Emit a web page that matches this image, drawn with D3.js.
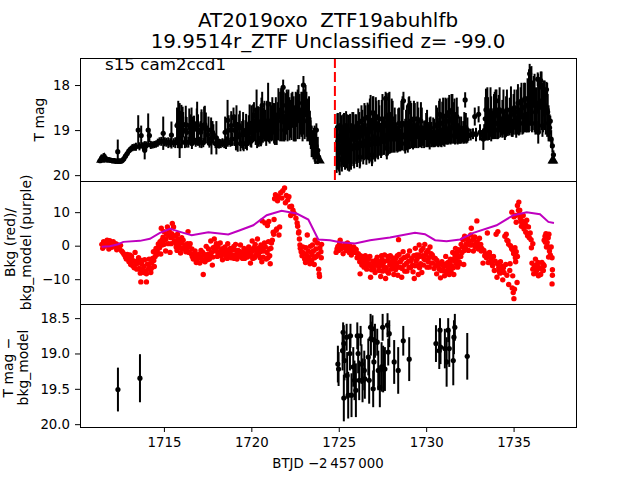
<!DOCTYPE html>
<html>
<head>
<meta charset="utf-8">
<script src="https://cdn.jsdelivr.net/npm/d3@7"></script>
<style>
  html, body { margin: 0; padding: 0; background: #fff; }
  svg { display: block; }
  text { font-family: "DejaVu Sans", sans-serif; fill: #000; }
  .tick text { font-size: 13.3px; }
  .axis path, .axis line { stroke: #000; stroke-width: 1; }
</style>
</head>
<body>
<div class="container"></div>
<script>
//Text
const titleLines = ["AT2019oxo  ZTF19abuhlfb", "19.9514r_ZTF Unclassified z= -99.0"];
const sectorLabel = "s15 cam2ccd1";
const xLabel = "BTJD \u22122\u2009457\u2009000";

//Ticks
const xTicks = [1715, 1720, 1725, 1730, 1735];
const magTicks = [18, 19, 20];
const bkgTicks = [10, 0, -10];
const diffTicks = [18.5, 19, 19.5, 20];

//Time of the dashed red line
const markerTime = [1724.78];

//Top panel: [time, mag, err]
const lightCurve = [
  [1711.35,19.68,.05],[1711.45,19.62,.08],[1711.55,19.6,.09],[1711.65,19.62,.08],[1711.75,19.66,.06],[1711.85,19.66,.06],
  [1711.95,19.67,.06],[1712.05,19.68,.06],[1712.15,19.68,.06],[1712.25,19.69,.06],[1712.36,19.48,.27],[1712.4,19.69,.06],
  [1712.5,19.69,.06],[1712.6,19.68,.06],[1712.7,19.64,.07],[1712.8,19.58,.07],[1712.9,19.52,.07],[1713,19.46,.07],
  [1713.1,19.42,.07],[1713.2,19.39,.08],[1713.3,19.38,.08],[1713.4,19.37,.09],[1713.53,19,.33],[1713.6,19.36,.09],
  [1713.7,19.12,.22],[1713.8,19.36,.09],[1713.9,19.35,.1],[1714,19.34,.09],[1714.1,19,.37],[1714.17,19.12,.15],
  [1714.25,19.33,.09],[1714.35,19.33,.08],[1714.45,19.32,.08],[1714.55,19.31,.08],[1714.65,19.28,.09],[1714.75,19.25,.09],
  [1714.85,19.25,.1],[1714.96,19.07,.37],[1715.05,19.26,.1],[1715.15,19.27,.1],[1715.25,19.28,.12],[1715.36,19.28,.1],
  [1715.43,19.11,.3],[1715.55,19.28,.1],[1715.65,19.28,.12],[1715.8,19.2,.2],[1715.85,18.82,.25],[1715.95,18.9,.33],
  [1716.02,19.0,.4],[1716.1,18.88,.28],[1716.2,19.27,.13],[1716.3,19.05,.34],[1716.4,19.27,.12],[1716.5,18.95,.3],
  [1716.6,19.3,.12],[1716.72,18.98,.3],[1716.82,19.27,.1],[1716.95,19.0,.35],[1717.05,19.27,.12],[1717.15,18.9,.3],
  [1717.25,19.28,.1],[1717.4,18.95,.34],[1717.5,19.1,.2],[1717.6,19.29,.1],[1717.7,19.0,.28],[1717.83,19.1,.23],
  [1717.95,19.3,.1],[1718.05,19.3,.1],[1718.15,19.3,.11],[1718.25,19.3,.1],[1718.35,19.28,.1],[1718.45,19.3,.1],
  [1718.55,19.28,.14],[1718.65,19.28,.09],[1718.8,19.27,.1],[1718.9,19.2,.15],[1718.98,18.72,.22],[1719.03,19.0,.35],
  [1719.12,19.3,.15],[1719.22,19.15,.33],[1719.3,18.9,.25],[1719.38,19.3,.17],[1719.47,19.1,.3],[1719.56,19.3,.17],
  [1719.66,19.1,.32],[1719.75,19.3,.15],[1719.85,19.0,.33],[1719.95,19.25,.12],[1720.05,18.95,.34],[1720.15,18.68,.3],
  [1720.2,19.0,.25],[1720.33,19.0,.4],[1720.43,19.25,.12],[1720.55,19.0,.36],[1720.62,18.45,.3],[1720.7,18.85,.35],
  [1720.85,19.1,.25],[1720.95,18.85,.38],[1721.05,19.1,.2],[1721.15,18.85,.4],[1721.25,18.75,.35],[1721.35,18.95,.38],
  [1721.45,19.0,.33],[1721.82,18.05,.17],[1721.7,18.55,.48],[1721.8,18.45,.42],[1721.9,19.0,.25],[1722.02,18.6,.5],
  [1722.12,18.55,.45],[1722.25,18.75,.42],[1722.35,18.55,.4],[1722.48,18.85,.4],[1722.6,18.55,.38],[1722.7,18.4,.4],
  [1722.8,18.8,.3],[1722.98,18.0,.2],[1723,18.6,.5],[1723.1,18.35,.35],[1723.2,18.8,.45],[1723.3,18.75,.5],
  [1723.4,19.1,.32],[1723.5,19.3,.3],[1723.58,19.2,.25],[1723.65,19.5,.25],[1723.72,19.0,.15],[1723.78,19.55,.2],
  [1723.85,19.6,.13]
];
const lightCurve2 = [
  [1724.88,19.42,.53],[1724.92,18.95,.32],[1725.02,19.5,.42],[1725.08,18.9,.3],[1725.18,19.42,.5],[1725.25,18.95,.3],
  [1725.36,19.42,.46],[1725.42,18.9,.32],[1725.52,19.4,.5],[1725.58,19,.34],[1725.7,19.42,.46],[1725.78,18.9,.3],
  [1725.88,19.38,.47],[1725.95,18.95,.3],[1726.05,19.4,.42],[1726.12,18.85,.33],[1726.22,19.35,.46],[1726.3,18.8,.35],
  [1726.4,19.32,.44],[1726.47,18.75,.35],[1726.58,19.35,.42],[1726.65,18.72,.33],[1726.75,19.32,.42],[1726.82,18.62,.4],
  [1726.92,19.3,.44],[1726.98,18.62,.37],[1727.08,19.3,.4],[1727.15,18.7,.35],[1727.25,19.3,.35],[1727.32,18.75,.3],
  [1727.42,19.25,.37],[1727.5,18.75,.55],[1727.6,19.25,.3],[1727.68,18.3,.15],[1727.75,18.7,.52],[1727.82,19.2,.35],
  [1727.9,18.65,.5],[1727.98,19.2,.3],[1728.08,18.75,.4],[1728.15,19.2,.28],[1728.25,18.95,.3],[1728.35,19.2,.3],
  [1728.45,18.85,.35],[1728.52,19.22,.25],[1728.7,18.35,.2],[1728.75,19.15,.32],[1728.85,18.85,.3],[1728.95,19.2,.3],
  [1729.03,18.45,.2],[1729.1,18.8,.45],[1729.2,19.15,.25],[1729.3,18.75,.4],[1729.4,19.15,.22],[1729.5,18.75,.38],
  [1729.6,19.15,.22],[1729.7,18.8,.42],[1729.82,19.15,.2],[1729.95,19,.22],[1730.05,18.9,.35],[1730.15,19.18,.18],
  [1730.25,18.95,.25],[1730.35,19.2,.15],[1730.45,19.05,.3],[1730.52,19.2,.17],[1730.62,18.9,.4],[1730.7,19.18,.2],
  [1730.78,18.65,.35],[1730.88,19.18,.2],[1730.97,18.7,.42],[1731.05,19.12,.25],[1731.15,18.68,.38],[1731.22,19.12,.2],
  [1731.32,18.6,.38],[1731.4,19.12,.2],[1731.5,18.55,.35],[1731.58,18.8,.42],[1731.65,19.15,.17],[1731.75,18.7,.42],
  [1731.85,19.15,.15],[1731.95,19.1,.2],[1732.05,19.15,.12],[1732.23,18.33,.17],[1732.3,19.1,.2],[1732.42,19.12,.12],
  [1732.55,19.1,.13],[1732.68,19.08,.12],[1732.78,18.7,.2],[1732.85,19.1,.15],[1733,18.65,.18],[1733.08,19.05,.18],
  [1733.2,19.1,.1],[1733.32,19.02,.15],[1733.42,18.55,.47],[1733.5,18.55,.5],[1733.58,19,.2],[1733.68,18.6,.55],
  [1733.78,19,.2],[1733.92,18.55,.4],[1734.02,18.35,.25],[1734.1,19,.2],[1734.2,18.55,.5],[1734.3,18.95,.17],
  [1734.42,18.6,.5],[1734.52,18.95,.22],[1734.62,18.55,.45],[1734.72,18.9,.2],[1734.85,18.55,.52],[1734.95,18.95,.2],
  [1735.05,18.5,.4],[1735.15,18.92,.25],[1735.25,18.4,.42],[1735.35,18.85,.25],[1735.45,18.35,.4],[1735.55,18.85,.23],
  [1735.65,18.3,.35],[1735.75,18.85,.2],[1735.92,17.75,.22],[1735.98,18.25,.5],[1736.05,18.85,.2],[1736.15,18.1,.3],
  [1736.25,18.6,.5],[1736.38,17.87,.15],[1736.45,18.5,.55],[1736.55,17.9,.2],[1736.65,18.9,.25],[1736.72,18.3,.4],
  [1736.88,18.1,.17],[1736.95,18.6,.4],[1737.02,19.05,.15],[1737.1,18.8,.12],[1737.15,19.2,.2],[1737.22,19.35,.15],
  [1737.28,19.55,.1]
];
//Long bars that close the gaps in the black band
const lightCurveFill = [
  [1715.75,18.9,.4],[1715.9,18.85,.45],[1716.07,18.9,.42],[1716.25,19,.3],[1716.45,18.9,.38],[1716.65,19,.3],[1716.88,18.9,.38],[1717.1,19.05,.25],[1717.3,18.9,.42],
  [1717.55,19,.3],[1717.78,19.05,.25],[1718.5,19.05,.35],[1718.7,19,.33],[1718.85,18.9,.32],[1719.08,19,.34],[1719.18,19.1,.28],[1719.34,18.95,.38],[1719.52,19.05,.3],
  [1719.7,19,.36],[1719.8,19.1,.25],[1719.9,18.85,.42],[1720,19.05,.25],[1720.1,18.85,.42],[1720.25,18.95,.38],[1720.38,18.85,.38],[1720.5,18.9,.42],[1720.58,18.8,.52],
  [1720.66,19,.28],[1720.75,18.8,.45],[1720.8,18.9,.35],[1720.9,18.8,.45],[1721,18.85,.42],[1721.1,18.8,.42],[1721.2,18.75,.48],[1721.3,18.85,.45],[1721.4,18.75,.48],
  [1721.5,18.8,.42],[1721.55,18.65,.58],[1721.65,18.7,.55],[1721.75,18.75,.5],[1721.85,18.7,.55],[1721.95,18.7,.52],[1722.07,18.7,.55],[1722.18,18.75,.48],[1722.3,18.7,.52],
  [1722.42,18.75,.5],[1722.54,18.7,.55],[1722.65,18.65,.55],[1722.75,18.7,.5],[1722.86,18.65,.5],[1722.93,18.7,.55],[1723.05,18.65,.55],[1723.15,18.65,.5],[1723.25,18.75,.45],
  [1723.35,18.95,.38],[1723.45,19.25,.35],[1723.55,19.35,.3],[1723.62,19.3,.4],[1723.7,19.35,.3],[1723.8,19.45,.3],
  [1724.95,19.25,.63],[1725.05,19.35,.45],[1725.15,19.25,.58],[1725.22,19.4,.38],[1725.3,19.22,.6],[1725.4,19.35,.42],[1725.47,19.25,.6],[1725.55,19.4,.35],[1725.65,19.22,.58],
  [1725.74,19.35,.4],[1725.83,19.2,.6],[1725.92,19.35,.35],[1726,19.2,.55],[1726.09,19.3,.43],[1726.18,19.15,.55],[1726.26,19.3,.4],[1726.35,19.1,.55],[1726.44,19.25,.42],
  [1726.53,19.05,.6],[1726.62,19.25,.4],[1726.7,19.05,.62],[1726.78,19,.7],[1726.87,19.2,.47],[1726.95,18.95,.7],[1727.03,19.15,.5],[1727.12,18.95,.68],[1727.2,19.2,.4],
  [1727.29,18.95,.62],[1727.37,19.2,.36],[1727.46,18.95,.62],[1727.55,19.15,.4],[1727.64,18.85,.6],[1727.72,18.9,.68],[1727.79,19.1,.47],[1727.86,18.85,.68],[1727.94,19.1,.42],
  [1728.03,18.9,.6],[1728.12,19.15,.35],[1728.2,19,.5],[1728.3,19.15,.32],[1728.4,19,.48],[1728.48,19.15,.32],[1728.58,18.9,.55],[1728.65,18.85,.6],[1728.8,19.1,.35],
  [1728.9,18.95,.5],[1729,18.85,.58],[1729.07,19.1,.32],[1729.15,18.9,.5],[1729.25,19.1,.33],[1729.35,18.9,.5],[1729.45,19.1,.3],[1729.55,18.95,.45],[1729.65,19.1,.28],
  [1729.75,18.95,.45],[1729.88,19.1,.3],[1730,19,.38],[1730.1,19.1,.28],[1730.2,19.05,.33],[1730.3,19.1,.28],[1730.4,19.05,.33],[1730.48,19.1,.28],[1730.57,18.9,.45],[1730.66,19.05,.32],
  [1730.74,18.85,.5],[1730.83,19,.37],[1730.92,18.85,.48],[1731,19,.35],[1731.1,18.8,.52],[1731.18,19,.32],[1731.27,18.8,.52],[1731.36,18.95,.35],[1731.45,18.75,.55],
  [1731.54,18.95,.35],[1731.62,18.8,.5],[1731.7,18.95,.35],[1731.8,18.9,.42],[1731.9,19,.3],[1732,19,.3],[1732.12,19.05,.25],[1732.18,18.95,.35],[1732.27,18.95,.33],[1732.36,19,.28],
  [1733.38,18.75,.48],[1733.46,18.9,.33],[1733.54,18.75,.48],[1733.62,18.9,.32],[1733.72,18.75,.5],[1733.82,18.9,.3],[1733.88,18.7,.5],[1733.97,18.65,.55],[1734.06,18.85,.35],
  [1734.15,18.7,.48],[1734.25,18.85,.31],[1734.36,18.75,.42],[1734.47,18.85,.31],[1734.57,18.7,.45],[1734.67,18.85,.28],[1734.78,18.7,.42],[1734.9,18.85,.3],[1735,18.65,.45],
  [1735.1,18.8,.3],[1735.2,18.6,.5],[1735.3,18.75,.37],[1735.4,18.55,.5],[1735.5,18.7,.4],[1735.6,18.5,.55],[1735.7,18.65,.4],[1735.8,18.45,.6],[1735.88,18.35,.7],
  [1735.95,18.25,.65],[1736.02,18.3,.72],[1736.1,18.45,.55],[1736.2,18.4,.65],[1736.3,18.55,.5],[1736.4,18.4,.65],[1736.5,18.45,.62],[1736.6,18.35,.65],[1736.68,18.5,.55],
  [1736.78,18.45,.55],[1736.84,18.6,.5],[1736.92,18.55,.6],[1737,18.85,.4],[1737.06,18.95,.3]
];
//Tall and low single bars
const lightCurveSpikes = [
  [1713.9,19.45,.2],[1715.82,18.85,.5],[1715.9,19.35,.27],[1716,18.92,.48],[1716.25,18.88,.42],[1716.58,18.9,.4],[1716.9,18.85,.48],[1717.15,18.97,.43],[1717.34,18.88,.42],
  [1717.72,19.17,.37],[1718,19.17,.37],[1718.64,18.78,.45],[1718.86,19,.35],[1719.15,18.92,.47],[1719.53,19.02,.42],[1720,18.92,.47],[1720.3,18.55,.45],[1720.96,18.42,.47],
  [1725.05,19.65,.35],[1725.6,19.6,.32],[1726.2,19.6,.25],[1726.9,19.55,.25],[1727.75,19.4,.25],[1728.8,19.3,.22],[1730.2,19.25,.18],[1733.27,19.2,.24],[1734.5,19,.22],[1736.41,19.05,.25]
];
//Upper limit triangles on the top panel: [time, mag]
const upperLimits = [[1711.4,19.66],[1711.6,19.62],[1723.92,19.68],[1737.22,19.68],[1737.28,19.68]];

//Middle panel: [time, flux]
const bkgPoints = [
  [1711.45,.4],[1711.5,-.8],[1711.55,1.2],[1711.6,-.2],[1711.7,1],[1711.75,1.6],[1711.8,.3],[1711.85,-1],[1711.9,1.5],[1712,.5],
  [1712.02,-.5],[1712.1,1.2],[1712.15,-.2],[1712.25,.6],[1712.3,-1.2],[1712.38,.2],[1712.45,-.8],[1712.52,.1],[1712.58,-1.6],[1712.65,-2],
  [1712.72,-2.6],[1712.8,-3.4],[1712.85,-4],[1712.95,-3.6],[1713,-4.8],[1713.05,-2.8],[1713.1,-5.6],[1713.15,-3.2],[1713.22,-6],[1713.3,-4.6],
  [1713.35,-2],[1713.4,-5.5],[1713.45,-7],[1713.5,-4.5],[1713.55,-3.6],[1713.6,-6.8],[1713.65,-8.2],[1713.68,-10.8],[1713.72,-5.4],[1713.78,-7.4],
  [1713.85,-6.2],[1713.9,-4.2],[1713.95,-7.6],[1714,-10.8],[1714,-8.4],[1714.05,-5.5],[1714.1,-7],[1714.15,-4],[1714.2,-6.5],[1714.25,-8],
  [1714.3,-5],[1714.35,-3.8],[1714.4,-1.8],[1714.45,-6.2],[1714.5,-3.2],[1714.55,-.8],[1714.62,-1.6],[1714.68,.5],[1714.72,-.4],[1714.78,1.2],
  [1714.82,-2.5],[1714.85,5.2],[1714.9,.2],[1714.95,2.5],[1715,4.2],[1715.05,1.8],[1715.1,-1.6],[1715.15,3.5],[1715.2,5.6],[1715.25,.6],
  [1715.3,4.6],[1715.35,-2],[1715.4,2.4],[1715.45,3.6],[1715.48,6.6],[1715.55,5.6],[1715.6,1.4],[1715.65,3],[1715.7,-.4],[1715.75,-1.4],
  [1715.8,2],[1715.85,.4],[1715.9,1.4],[1715.95,-2.2],[1716,.8],[1716.05,-1],[1716.1,1.6],[1716.15,-.6],[1716.2,.2],[1716.25,-1.8],
  [1716.3,-.8],[1716.38,4.2],[1716.45,-.4],[1716.5,.6],[1716.55,-2.4],[1716.6,-1],[1716.68,-4],[1716.72,-2.6],[1716.8,-3.4],[1716.85,-5],
  [1716.95,-3.8],[1717,-2.6],[1717.05,-5.2],[1717.12,-1.4],[1717.2,-4.4],[1717.25,-8.6],[1717.3,-2.6],[1717.38,-3.8],[1717.42,-.2],[1717.5,-2.6],
  [1717.55,-1],[1717.6,-4],[1717.68,1.4],[1717.72,-2],[1717.77,-5.8],[1717.82,-.6],[1717.88,2],[1717.95,-1.6],[1718,.6],[1718.05,-3.2],
  [1718.1,-.4],[1718.18,-2.4],[1718.22,.8],[1718.3,-1.2],[1718.35,-4.2],[1718.42,-2],[1718.5,-.4],[1718.55,-3.2],[1718.6,-1.4],[1718.65,.6],
  [1718.72,-2.6],[1718.8,-.8],[1718.85,-3.6],[1718.92,-1.2],[1719,-.2],[1719.05,-2.8],[1719.1,.4],[1719.18,-4],[1719.25,-1.4],[1719.3,-3],
  [1719.38,.2],[1719.45,-2],[1719.5,-3.8],[1719.58,-.8],[1719.65,-2.6],[1719.7,-1.2],[1719.78,-3.4],[1719.85,-.4],[1719.9,-2],[1719.95,-5.2],
  [1720,-3],[1720.05,1.4],[1720.12,-1.2],[1720.18,-3.6],[1720.22,.4],[1720.3,-2.2],[1720.35,2],[1720.42,-.8],[1720.5,-3.6],[1720.55,.2],
  [1720.6,-4.8],[1720.62,7.4],[1720.7,-1.6],[1720.75,.8],[1720.78,6.8],[1720.85,-4],[1720.9,-2],[1720.92,6],[1720.98,1.2],[1721,7.2],
  [1721.05,-3],[1721.08,-5.4],[1721.12,-.8],[1721.15,.8],[1721.2,1.6],[1721.25,4],[1721.28,3.4],[1721.3,7.8],[1721.33,14],[1721.38,15.2],
  [1721.42,4.6],[1721.45,5],[1721.5,13.4],[1721.55,14.6],[1721.58,3.2],[1721.62,5.6],[1721.68,15.8],[1721.75,14.2],[1721.8,16.4],[1721.9,17.2],
  [1721.95,12.8],[1722,15],[1722.08,13.6],[1722.15,14.6],[1722.2,11.6],[1722.25,9],[1722.3,11.8],[1722.38,10.6],[1722.45,9.6],[1722.55,8.2],
  [1722.62,6.8],[1722.65,5.8],[1722.7,3.8],[1722.72,4.2],[1722.75,2],[1722.78,.2],[1722.8,-.8],[1722.85,-1.8],[1722.9,-3],[1722.95,-.4],
  [1723,-2.4],[1723.05,-4],[1723.1,-5],[1723.15,-2.8],[1723.2,3.2],[1723.22,-4.2],[1723.3,-3.4],[1723.35,-5.4],[1723.42,-2],[1723.45,-4.4],
  [1723.5,.2],[1723.55,-1.6],[1723.6,-5.6],[1723.65,1.6],[1723.7,-1],[1723.72,-3.2],[1723.78,.8],[1723.82,-2.6],[1723.85,-7],[1723.88,-8.4],
  [1723.9,-9.2],[1723.92,-.6],[1723.98,-1.8],[1724,-3.6],[1724.02,.4],
  [1724.85,-2],[1724.9,-1],[1724.95,-.2],[1725,-1.4],[1725.05,.6],[1725.08,1.6],[1725.12,-1],[1725.2,-.6],[1725.25,-2.4],[1725.3,-.4],
  [1725.35,.4],[1725.42,-1.4],[1725.5,.8],[1725.55,-.6],[1725.6,-2],[1725.65,-.8],[1725.72,-2.8],[1725.8,-1.6],[1725.85,-.4],[1725.92,-2],
  [1726,-1.2],[1726.05,-3.6],[1726.12,-2.4],[1726.2,-4.8],[1726.25,-3],[1726.22,-8.4],[1726.32,-5.8],[1726.38,-4],[1726.45,-6.4],[1726.55,-4.4],
  [1726.62,-5.6],[1726.7,-4],[1726.8,-6],[1726.82,-9.4],[1726.88,-7.2],[1726.95,-4.6],[1727,-5.8],[1727.08,-8],[1727.15,-4.2],[1727.2,-3.4],
  [1727.28,-6.2],[1727.35,-4.8],[1727.4,-9.2],[1727.45,-3],[1727.5,-7.6],[1727.55,-5.2],[1727.62,-2.8],[1727.68,-9.8],[1727.72,-6.6],[1727.8,-4.4],
  [1727.85,-8.2],[1727.92,-5.6],[1727.95,-3],[1728,-7],[1728.1,-4.8],[1728.15,-8.6],[1728.2,-6.2],[1728.28,-3.6],[1728.32,-5.2],[1728.38,-8.8],
  [1728.42,1.8],[1728.45,-2.6],[1728.5,-6.4],[1728.58,-4.2],[1728.6,-9.4],[1728.68,-1.8],[1728.75,-5.8],[1728.82,-3.4],[1728.9,-7.6],[1729,-4.6],
  [1729.05,-1.6],[1729.1,-6.6],[1729.18,-3.8],[1729.25,-7.8],[1729.32,-9.8],[1729.38,-.8],[1729.42,-4.6],[1729.45,-2.8],[1729.5,-6],[1729.55,-8.6],
  [1729.6,.2],[1729.65,-3.2],[1729.68,-5.4],[1729.72,-1.4],[1729.75,-8],[1729.82,-.8],[1729.88,-4],[1729.92,.4],[1729.98,-2.6],[1730.05,-6.4],
  [1730.1,-1.4],[1730.15,-3.6],[1730.22,-.4],[1730.3,-5.2],[1730.35,-2.8],[1730.45,-6.8],[1730.52,-3.8],[1730.6,-8.4],[1730.68,-5.2],[1730.75,-7],
  [1730.82,-9.6],[1730.9,-4.8],[1731,-6.2],[1731.05,-9],[1731.12,-3.2],[1731.2,-7.4],[1731.25,-5],[1731.32,-8.6],[1731.38,-4],[1731.45,-6],
  [1731.52,-2],[1731.58,-8.6],[1731.62,-4.6],[1731.68,-.8],[1731.75,-3.6],[1731.8,-6.4],[1731.85,-1.2],[1731.9,-3.2],[1731.95,-5.4],[1732,.4],
  [1732.05,-2],[1732.1,1.8],[1732.15,-5.6],[1732.2,2.8],[1732.25,-.6],[1732.3,.6],[1732.38,2],[1732.42,-1.4],[1732.5,.2],[1732.55,3.2],
  [1732.58,5.2],[1732.65,1.6],[1732.7,-1.6],[1732.78,2.6],[1732.85,.6],[1732.9,7.4],[1732.98,-1],[1733.05,2.2],[1733.12,.4],[1733.18,-.8],
  [1733.25,-5.2],[1733.3,-1.4],[1733.4,-2.4],[1733.5,3.8],[1733.58,-3.4],[1733.62,-2],[1733.72,-4.4],[1733.8,-6],[1733.85,-3.2],[1733.9,-7.4],
  [1733.95,-4.6],[1734,3.4],[1734.05,-9.4],[1734.1,4.2],[1734.15,-6.6],[1734.18,-7.6],[1734.25,-4.8],[1734.32,-6.2],[1734.38,-10.2],[1734.45,-8],
  [1734.5,2.8],[1734.55,-5.6],[1734.58,3.4],[1734.62,-8.8],[1734.68,1.4],[1734.72,-11.6],[1734.78,-7.4],[1734.8,-5.4],[1734.82,0],[1734.9,-1],
  [1734.92,-12.6],[1734.98,-14],[1735,-2.4],[1735.02,-15.8],[1735.05,-13],[1735.1,-3.6],[1735.12,-4.8],[1735.15,-1.8],[1735.2,-11],[1735.22,-3.2],
  [1734.9,10],[1735.02,8.6],[1735.12,9],[1735.15,7],[1735.22,12],[1735.3,13],[1735.35,10.6],[1735.38,8.2],[1735.45,5.8],[1735.5,7.4],
  [1735.55,9],[1735.6,5],[1735.65,6.6],[1735.7,4],[1735.75,7.6],[1735.8,3],[1735.85,5.6],[1735.9,2.4],[1735.95,3.8],[1736,1.8],
  [1736.02,-.6],[1736.1,.6],[1736.05,-5.2],[1736.1,-7],[1736.15,-8.4],[1736.18,-6],[1736.25,-4],[1736.32,-7.4],[1736.35,-5.6],[1736.42,-9],
  [1736.48,-6.6],[1736.55,-8.6],[1736.62,-5],[1736.7,-7.4],[1736.75,-6],[1736.75,1.6],[1736.8,2.8],[1736.85,3.6],[1736.88,-.4],[1736.92,1],
  [1736.98,2.4],[1737.02,3.4],[1737,-3.4],[1737.05,-1.6],[1737.1,-2.8],[1737.15,-.4],[1737.2,-3.6],[1737.22,-7.2],[1737.22,-8.8],[1737.2,-11.4]
];
//More of the red cloud
const bkgPointsFill = [
  [1712.9,-2.6],[1713.2,-4.4],[1713.3,-6.6],[1713.45,-5.4],[1713.75,-4.4],[1713.85,-8],[1714.12,-5.6],[1714.28,-6.8],[1714.42,-4.4],[1714.6,-2.6],
  [1714.75,-.6],[1714.88,1.6],[1715.02,.4],[1715.12,2],[1715.28,3],[1715.42,.6],[1715.55,2.8],[1715.68,.8],[1715.78,3.4],[1715.92,-.6],
  [1716.02,2.4],[1716.22,-1],[1716.35,.6],[1716.42,-2],[1716.62,-3.2],[1716.78,-1.6],[1716.92,-2.8],[1717.1,-3.4],[1717.22,-2],[1717.35,-4.8],
  [1717.48,-4.2],[1717.65,-2.8],[1717.8,-3.4],[1717.92,-.4],[1718.08,-1.8],[1718.25,-3],[1718.38,-.8],[1718.48,-2.6],[1718.62,-3.8],[1718.78,-1.8],
  [1718.9,-2.8],[1719.02,-3.8],[1719.15,-1.4],[1719.22,-2.6],[1719.35,-1.8],[1719.42,-3.4],[1719.55,-2],[1719.62,-3.8],[1719.75,-2],[1719.82,-3],
  [1719.92,-1],[1720.02,-1.8],[1720.08,-3.8],[1720.15,-.6],[1720.25,-3],[1720.32,-1],[1720.4,-2.6],[1720.48,-.6],[1720.52,-1.8],[1720.62,-1],
  [1720.68,-3.4],[1720.8,-.4],[1720.95,-3.6],[1721.02,-1],[1722.95,-2],[1723.12,-.6],[1723.25,-1.6],[1723.38,-.2],[1723.48,-2.8],[1723.62,-3.6],
  [1725.15,-.2],[1725.45,-.4],[1725.62,.2],[1725.78,-.8],[1725.95,-1],[1726.1,-3.2],[1726.3,-3.6],[1726.42,-5],[1726.52,-3],[1726.6,-7],
  [1726.72,-5.4],[1726.78,-3.2],[1726.92,-6],[1727.02,-7],[1727.12,-5.6],[1727.25,-4.8],[1727.32,-7.4],[1727.42,-5.8],[1727.48,-4.2],[1727.58,-6.4],
  [1727.65,-4.6],[1727.75,-7.6],[1727.82,-3.2],[1727.98,-5],[1728.05,-3.6],[1728.08,-6.2],[1728.22,-4.4],[1728.25,-7.2],[1728.35,-3],[1728.4,-6.4],
  [1728.52,-4.8],[1728.62,-6.8],[1728.72,-3.6],[1728.78,-7.6],[1728.88,-5.2],[1728.95,-3],[1729.02,-6.4],[1729.12,-4.6],[1729.22,-5.8],[1729.3,-3],
  [1729.35,-6],[1729.48,-4],[1729.58,-2.8],[1729.62,-6.6],[1729.78,-3],[1729.85,-5.8],[1729.95,-4.2],[1730.02,-2],[1730.12,-4.8],[1730.18,-6.4],
  [1730.28,-2.4],[1730.38,-5.2],[1730.42,-3.6],[1730.55,-6],[1730.62,-4.4],[1730.72,-5.8],[1730.85,-7.4],[1730.95,-5.6],[1731.02,-7.6],[1731.15,-5.4],
  [1731.18,-8],[1731.28,-6.4],[1731.35,-5],[1731.42,-7.6],[1731.5,-4.2],[1731.55,-6.6],[1731.65,-3],[1731.72,-5.4],[1731.78,-2],[1731.88,-4.8],
  [1731.98,-3.2],[1732.08,-.4],[1732.18,-1.4],[1732.32,2],[1732.45,.8],[1732.62,.2],[1732.72,2.2],[1732.82,-.4],[1732.92,1.2],[1733,-.2],
  [1733.15,-1.6],[1733.35,-3],[1733.45,-3.6],[1733.55,-5],[1733.68,-3.2],[1733.78,-5.6],[1734.08,-5.4],[1734.22,-8.2],[1734.3,-7.6],[1734.42,-6.6],
  [1734.62,1.6],[1734.72,.4],[1734.88,-.6],[1734.98,-1.4],[1734.95,-9],[1735.08,-.6],[1735.28,10.6],[1735.32,9.4],[1735.42,7.2],[1735.6,7],
  [1735.7,6],[1735.85,3.6],[1736.22,-6.2],[1736.28,-8.2],[1736.4,-5],[1736.6,-7],[1736.7,-5.6],[1736.82,1],[1736.9,3],[1736.95,-.2]
];
//Middle panel, model line: [time, flux]
const bkgModel = [
  [1711.44,-.35],[1711.91,-.15],[1712.39,.44],[1712.68,1.14],[1713.63,1.44],[1714.2,2.04],[1714.77,3.83],[1715.35,5.03],[1715.92,4.13],[1716.59,3.13],
  [1717.54,4.03],[1718.68,3.33],[1719.35,4.6],[1720.11,6.1],[1720.88,9.1],[1721.73,10.4],[1722.59,9.6],[1723.26,7.8],[1723.83,1.84],[1724.5,1.64],
  [1725.07,1.04],[1725.93,.64],[1726.79,1.64],[1727.93,2.44],[1729.36,3.83],[1729.93,3.43],[1730.51,1.64],[1731.17,1.34],[1731.94,1.84],[1732.7,3.83],
  [1734.03,6.1],[1734.99,9.1],[1735.75,10],[1736.51,9.4],[1736.99,7.1],[1737.31,6.8]
];

//Bottom panel: [time, mag, err]
const diffPoints = [
  [1712.37,19.51,.31],[1713.63,19.35,.34],
  [1724.95,19.15,.26],[1724.99,19.22,.24],[1725.25,18.7,.14],[1725.29,18.86,.26],[1725.22,18.96,.28],[1725.33,19.1,.28],[1725.29,19.63,.33],
  [1725.45,18.77,.19],[1725.48,19.31,.33],[1725.54,19.59,.33],[1725.67,18.75,.17],[1725.64,19,.24],[1725.73,19.59,.31],[1725.83,19.19,.28],
  [1725.9,19.38,.28],[1725.98,19.52,.38],[1726.06,18.75,.19],[1726.11,19,.28],[1726.17,19.38,.28],[1726.25,18.75,.14],[1726.3,19.15,.28],
  [1726.36,19.38,.31],[1726.46,19.24,.28],[1726.49,19.36,.28],[1726.69,19.05,.26],[1726.74,19.38,.33],[1726.82,18.63,.19],[1726.84,18.79,.24],
  [1726.93,18.65,.19],[1726.97,19.5,.26],[1727.01,19.12,.35],[1727.07,18.82,.24],[1727.2,18.84,.19],[1727.26,19.24,.28],[1727.35,19.48,.28],
  [1727.45,19.19,.35],[1727.51,18.63,.19],[1727.54,19.22,.33],[1727.64,19.22,.31],[1727.79,18.6,.17],[1727.83,18.98,.19],[1727.89,18.72,.19],
  [1728.17,19.12,.31],[1728.4,19.24,.33],[1728.69,18.82,.21],[1729.03,19.08,.31],[1730.56,18.86,.26],[1730.75,18.96,.26],[1730.79,18.67,.17],
  [1730.82,18.91,.24],[1731.07,18.93,.28],[1731.17,19.12,.35],[1731.26,18.67,.17],[1731.32,18.93,.26],[1731.55,19.1,.35],[1731.59,18.77,.24],
  [1731.64,18.63,.19],[1732.35,19.04,.33]
];

const margin = { top: 58, right: 64, bottom: 53, left: 80 };
const w = 640 - margin.left - margin.right;
const panelH = 123;

let svg = d3.select(".container").append("svg").attr("width", 640).attr("height", 480);

//Title
svg.append("text").attr("class", "title").attr("text-anchor", "middle")
  .style("font-size", "19.9px").style("white-space", "pre")
  .selectAll("tspan").data(titleLines).enter().append("tspan")
  .attr("x", 328).attr("y", (d, i) => 26.7 + i * 21.6).text(d => d);

//Shared x scale
const xScale = d3.scaleLinear().domain([1710.2, 1738.57]).range([margin.left, margin.left + w]);

//Panel y scales, top to bottom
const yMag = d3.scaleLinear().domain([17.4, 20.13]).range([58, 58 + panelH]);
const yBkg = d3.scaleLinear().domain([19.3, -17.4]).range([181, 181 + panelH]);
const yDiff = d3.scaleLinear().domain([18.3, 20.04]).range([304, 304 + panelH]);

function clip(id, top) {
  svg.append("clipPath").attr("id", id).append("rect")
    .attr("x", margin.left).attr("y", top).attr("width", w).attr("height", panelH);
}
clip("c1", 58);
clip("c2", 181);
clip("c3", 304);

function errorPoints(id, data, y) {
  let g = svg.append("g").attr("clip-path", "url(#" + id + ")");
  g.selectAll("line").data(data).enter().append("line")
    .attr("x1", d => xScale(d[0])).attr("x2", d => xScale(d[0]))
    .attr("y1", d => y(d[1] - d[2])).attr("y2", d => y(d[1] + d[2]))
    .attr("stroke", "#000").attr("stroke-width", 2);
  g.selectAll("circle").data(data).enter().append("circle")
    .attr("cx", d => xScale(d[0])).attr("cy", d => y(d[1])).attr("r", 2.6).attr("fill", "#000");
}

//Top panel
errorPoints("c1", lightCurve.concat(lightCurve2, lightCurveFill, lightCurveSpikes), yMag);
svg.append("g").attr("clip-path", "url(#c1)").selectAll("path").data(upperLimits).enter().append("path")
  .attr("d", d3.symbol(d3.symbolTriangle, 42))
  .attr("transform", d => "translate(" + xScale(d[0]) + "," + yMag(d[1]) + ")")
  .attr("fill", "#000");
svg.selectAll(".marker").data(markerTime).enter().append("line")
  .attr("class", "marker")
  .attr("x1", d => xScale(d)).attr("x2", d => xScale(d))
  .attr("y1", 58).attr("y2", 181)
  .attr("stroke", "#f00").attr("stroke-width", 2).attr("stroke-dasharray", "10,4");

//Middle panel
let mid = svg.append("g").attr("clip-path", "url(#c2)");
mid.selectAll("circle").data(bkgPoints.concat(bkgPointsFill)).enter().append("circle")
  .attr("cx", d => xScale(d[0])).attr("cy", d => yBkg(d[1])).attr("r", 2.7).attr("fill", "#f00");
mid.append("path").datum(bkgModel)
  .attr("d", d3.line().x(d => xScale(d[0])).y(d => yBkg(d[1])))
  .attr("fill", "none").attr("stroke", "#bf00bf").attr("stroke-width", 2);

//Bottom panel
errorPoints("c3", diffPoints, yDiff);

//Frames and axes
[[58, yMag, magTicks, d3.format("d")], [181, yBkg, bkgTicks, d => d3.format("d")(d).replace("-", "\u2212")], [304, yDiff, diffTicks, d3.format(".1f")]].forEach(p => {
  svg.append("rect").attr("x", margin.left).attr("y", p[0]).attr("width", w).attr("height", panelH)
    .attr("fill", "none").attr("stroke", "#000").attr("shape-rendering", "crispEdges");
  svg.append("g").attr("class", "axis").attr("transform", "translate(" + margin.left + ",0)")
    .call(d3.axisLeft(p[1]).tickValues(p[2]).tickFormat(p[3]).tickSize(5).tickPadding(5));
});
svg.append("g").attr("class", "axis").attr("transform", "translate(0,427)")
  .call(d3.axisBottom(xScale).tickValues(xTicks).tickFormat(d3.format("d")).tickSize(5).tickPadding(6));
svg.selectAll(".axis .domain").remove();

//Labels
svg.append("text").attr("x", 105).attr("y", 70).style("font-size", "16.7px").text(sectorLabel);
svg.append("text").attr("x", 328).attr("y", 468).attr("text-anchor", "middle").style("font-size", "13.3px").text(xLabel);

function yLabel(lines, x, cy, gap) {
  lines.forEach((t, i) => {
    svg.append("text").attr("transform", "translate(" + (x + i * gap) + "," + cy + ") rotate(-90)")
      .attr("text-anchor", "middle").style("font-size", "13.9px").text(t);
  });
}
yLabel(["T mag"], 43.5, 119.5, 0);
yLabel(["Bkg (red)/", "bkg_model (purple)"], 15, 242.5, 16);
yLabel(["T mag \u2212", "bkg_model"], 13, 367.5, 14.5);
</script>
</body>
</html>
